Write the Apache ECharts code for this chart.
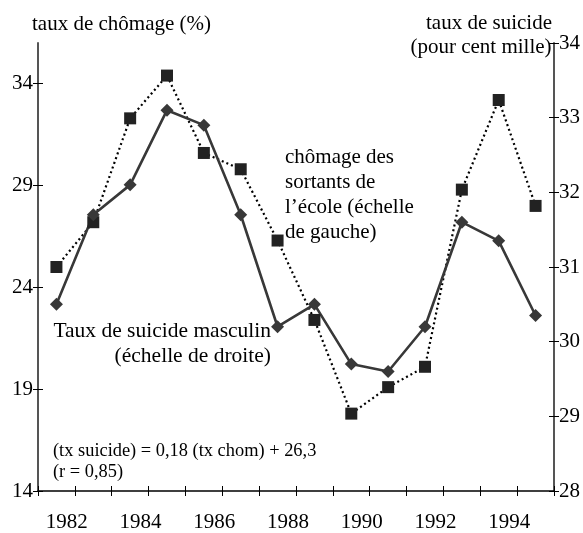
<!DOCTYPE html>
<html>
<head>
<meta charset="utf-8">
<script src="https://cdn.jsdelivr.net/npm/echarts@6/dist/echarts.min.js"></script>
<style>
html,body{margin:0;padding:0;background:#fff;}
#chart{width:583px;height:533px;}
</style>
</head>
<body>
<div id="chart"></div>
<script>
// Data
var years = ['1982','1983','1984','1985','1986','1987','1988','1989','1990','1991','1992','1993','1994','1995'];
var chomage = [25.0, 27.2, 32.3, 34.4, 30.6, 29.8, 26.3, 22.4, 17.8, 19.1, 20.1, 28.8, 33.2, 28.0];   // left scale
var suicide = [30.5, 31.7, 32.1, 33.1, 32.9, 31.7, 30.2, 30.5, 29.7, 29.6, 30.2, 31.6, 31.35, 30.35]; // right scale
var xTickLabels = ['1982','1984','1986','1988','1990','1992','1994'];
var xLabelPositions = [1, 3, 5, 7, 9, 11, 13];
var leftTicks = [14, 19, 24, 29, 34];
var rightTicks = [28, 29, 30, 31, 32, 33, 34];

var FONT = "'Liberation Serif', 'Times New Roman', serif";
var chart = echarts.init(document.getElementById('chart'), null, {renderer: 'canvas'});

var option = {
  backgroundColor: '#fff',
  animation: false,
  grid: {left: 38, right: 29, top: 43, bottom: 40, containLabel: false},
  xAxis: [
    {
      type: 'category', data: years, position: 'bottom', boundaryGap: true,
      axisLine: {show: true, lineStyle: {color: '#000', width: 1.5}},
      axisTick: {show: true, inside: true, length: 5, interval: 0, lineStyle: {color: '#000', width: 1}},
      axisLabel: {show: false}, splitLine: {show: false}
    },
    {
      type: 'value', min: 0, max: 14, interval: 1, position: 'bottom',
      axisLine: {show: false},
      axisTick: {show: true, inside: false, length: 5, lineStyle: {color: '#000', width: 1}},
      axisLabel: {
        show: true, customValues: xLabelPositions, margin: 21,
        fontFamily: FONT, fontSize: 21, color: '#000', padding: [0, 16, 0, 0],
        formatter: function (v) { var i = xLabelPositions.indexOf(v); return i >= 0 ? xTickLabels[i] : ''; }
      },
      splitLine: {show: false}
    }
  ],
  yAxis: [
    {
      type: 'value', min: 14, max: 36, position: 'left',
      axisLine: {show: true, lineStyle: {color: '#555', width: 2}},
      axisTick: {show: true, inside: false, length: 5, customValues: leftTicks, lineStyle: {color: '#000', width: 1}},
      axisLabel: {show: true, customValues: leftTicks, margin: 5, fontFamily: FONT, fontSize: 21, color: '#000'},
      splitLine: {show: false}
    },
    {
      type: 'value', min: 14, max: 36, position: 'left',
      axisLine: {show: false},
      axisTick: {show: true, inside: true, length: 5, customValues: leftTicks, lineStyle: {color: '#000', width: 1}},
      axisLabel: {show: false}, splitLine: {show: false}
    },
    {
      type: 'value', min: 28, max: 34, interval: 1, position: 'right',
      axisLine: {show: true, lineStyle: {color: '#555', width: 2}},
      axisTick: {show: true, inside: false, length: 5, customValues: rightTicks, lineStyle: {color: '#000', width: 1}},
      axisLabel: {show: true, customValues: rightTicks, margin: 5, fontFamily: FONT, fontSize: 21, color: '#000'},
      splitLine: {show: false}
    },
    {
      type: 'value', min: 28, max: 34, interval: 1, position: 'right',
      axisLine: {show: false},
      axisTick: {show: true, inside: true, length: 5, customValues: rightTicks, lineStyle: {color: '#000', width: 1}},
      axisLabel: {show: false}, splitLine: {show: false}
    }
  ],
  series: [
    {
      name: 'chômage', type: 'line', xAxisIndex: 0, yAxisIndex: 0, data: chomage,
      symbol: 'rect', symbolSize: 12, showAllSymbol: true,
      lineStyle: {color: '#000', width: 2.2, type: [2, 3]},
      itemStyle: {color: '#222', borderColor: '#222', borderWidth: 0}
    },
    {
      name: 'suicide', type: 'line', xAxisIndex: 0, yAxisIndex: 2, data: suicide,
      symbol: 'diamond', symbolSize: 13, showAllSymbol: true,
      lineStyle: {color: '#383838', width: 2.6},
      itemStyle: {color: '#383838', borderWidth: 0}
    }
  ],
  graphic: [
    {type: 'text', left: 32, top: 14, style: {text: 'taux de chômage (%)', font: '21px ' + FONT, fill: '#000'}},
    {type: 'text', x: 489, y: 13, style: {text: 'taux de suicide', font: '21px ' + FONT, fill: '#000', textAlign: 'center'}},
    {type: 'text', x: 481, y: 37, style: {text: '(pour cent mille)', font: '21px ' + FONT, fill: '#000', textAlign: 'center'}},
    {type: 'text', x: 285, y: 145, style: {text: 'chômage des\nsortants de\nl’école (échelle\nde gauche)', font: '21px ' + FONT, fill: '#000', lineHeight: 25}},
    {type: 'text', x: 271, y: 319, style: {text: 'Taux de suicide masculin\n(échelle de droite)', font: '21.5px ' + FONT, fill: '#000', textAlign: 'right', lineHeight: 25}},
    {type: 'text', x: 53, y: 441, style: {text: '(tx suicide) = 0,18 (tx chom) + 26,3\n(r = 0,85)', font: '18.4px ' + FONT, fill: '#000', lineHeight: 21}}
  ]
};
chart.setOption(option);
</script>
</body>
</html>
